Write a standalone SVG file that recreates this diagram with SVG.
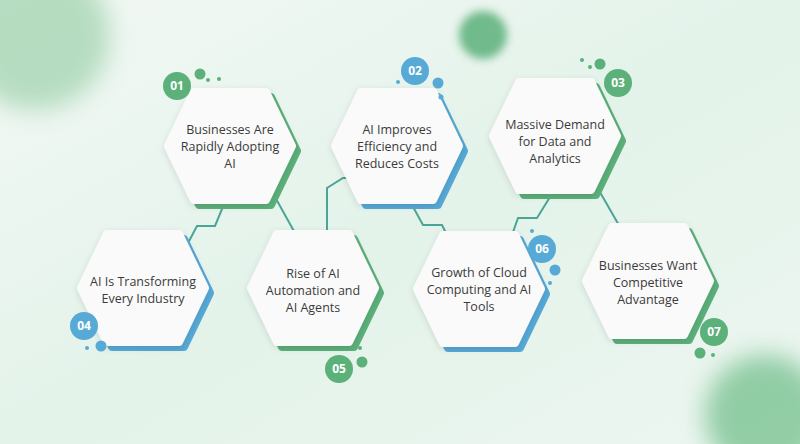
<svg xmlns="http://www.w3.org/2000/svg" width="800" height="444" viewBox="0 0 800 444">
<defs>
<linearGradient id="bg" x1="0" y1="0" x2="1" y2="1"><stop offset="0" stop-color="#f3f8f5"/><stop offset="0.5" stop-color="#e3f3ea"/><stop offset="1" stop-color="#ecf6f0"/></linearGradient>
<filter id="blur" x="-50%" y="-50%" width="200%" height="200%"><feGaussianBlur stdDeviation="12"/></filter>
<filter id="blur2" x="-50%" y="-50%" width="200%" height="200%"><feGaussianBlur stdDeviation="4"/></filter>
<filter id="sh" x="-20%" y="-20%" width="140%" height="140%"><feDropShadow dx="0" dy="2" stdDeviation="3" flood-color="#000" flood-opacity="0.12"/></filter>
<polygon id="hex" points="-62,0 -36,-54 36,-54 62,0 36,54 -36,54"/>
<style>
.hw{fill:#fafafa;stroke:#fafafa;stroke-width:8;stroke-linejoin:round}
.sg{fill:#5cb07a;stroke:#5cb07a;stroke-width:8;stroke-linejoin:round}
.sb{fill:#57a9d6;stroke:#57a9d6;stroke-width:8;stroke-linejoin:round}
.t{font-family:"Open Sans","Liberation Sans",sans-serif;font-size:12.5px;fill:#3a3a3a;text-anchor:middle}
.n{font-family:"Open Sans","Liberation Sans",sans-serif;font-size:12px;font-weight:bold;fill:#fff;text-anchor:middle}
.g{fill:#5cb07a}.b{fill:#57a9d6}
.c{fill:none;stroke:#4aa596;stroke-width:2}
</style>
</defs>
<rect width="800" height="444" fill="url(#bg)"/>
<circle cx="35" cy="35" r="75" fill="#8fcb9f" opacity="0.6" filter="url(#blur)"/>
<circle cx="483" cy="35" r="24" fill="#5cb07a" opacity="0.85" filter="url(#blur2)"/>
<circle cx="765" cy="415" r="60" fill="#6cbc86" opacity="0.7" filter="url(#blur)"/>
<g id="connectors" class="c">
<polyline points="227,197 215,226 197,226 187,245"/>
<polyline points="275,197 295,233"/>
<polyline points="327,233 327,188 343,178 352,178"/>
<polyline points="412,205 423,225 442,225 447,235"/>
<polyline points="512,235 518,218 537,218 550,197"/>
<polyline points="597,187 620,227"/>
</g>
<g id="node1" transform="translate(230,146)"><use href="#hex" class="sg" transform="translate(5,5)"/><use href="#hex" class="hw" filter="url(#sh)"/>
<text class="t" y="-12">Businesses Are</text><text class="t" y="5">Rapidly Adopting</text><text class="t" y="22">AI</text></g>
<g id="node2" transform="translate(397,146)"><use href="#hex" class="sb" transform="translate(5,5)"/><use href="#hex" class="hw" filter="url(#sh)"/>
<text class="t" y="-12">AI Improves</text><text class="t" y="5">Efficiency and</text><text class="t" y="22">Reduces Costs</text></g>
<g id="node3" transform="translate(555,136)"><use href="#hex" class="sg" transform="translate(5,5)"/><use href="#hex" class="hw" filter="url(#sh)"/>
<text class="t" y="-7">Massive Demand</text><text class="t" y="10">for Data and</text><text class="t" y="27">Analytics</text></g>
<g id="node4" transform="translate(143,288)"><use href="#hex" class="sb" transform="translate(5,5)"/><use href="#hex" class="hw" filter="url(#sh)"/>
<text class="t" y="-2">AI Is Transforming</text><text class="t" y="15">Every Industry</text></g>
<g id="node5" transform="translate(313,288)"><use href="#hex" class="sg" transform="translate(5,5)"/><use href="#hex" class="hw" filter="url(#sh)"/>
<text class="t" y="-10">Rise of AI</text><text class="t" y="7">Automation and</text><text class="t" y="24">AI Agents</text></g>
<g id="node6" transform="translate(479,289)"><use href="#hex" class="sb" transform="translate(5,5)"/><use href="#hex" class="hw" filter="url(#sh)"/>
<text class="t" y="-12">Growth of Cloud</text><text class="t" y="5">Computing and AI</text><text class="t" y="22">Tools</text></g>
<g id="node7" transform="translate(648,281)"><use href="#hex" class="sg" transform="translate(5,5)"/><use href="#hex" class="hw" filter="url(#sh)"/>
<text class="t" y="-11">Businesses Want</text><text class="t" y="6">Competitive</text><text class="t" y="23">Advantage</text></g>
<g id="badge1"><circle class="g" cx="177" cy="86" r="14"/><text class="n" x="177" y="90">01</text><circle class="g" cx="200" cy="74" r="5.5"/><circle class="g" cx="208" cy="80" r="2"/><circle class="g" cx="219" cy="79" r="2"/></g>
<g id="badge2"><circle class="b" cx="415" cy="71" r="14"/><text class="n" x="415" y="75">02</text><circle class="b" cx="438" cy="83" r="5.5"/><circle class="b" cx="441" cy="97" r="2.5"/><circle class="b" cx="398" cy="82" r="2"/></g>
<g id="badge3"><circle class="g" cx="618" cy="83" r="14"/><text class="n" x="618" y="87">03</text><circle class="g" cx="600" cy="64" r="5.5"/><circle class="g" cx="590" cy="67" r="2"/><circle class="g" cx="582" cy="60" r="2"/></g>
<g id="badge4"><circle class="b" cx="84" cy="326" r="14"/><text class="n" x="84" y="330">04</text><circle class="b" cx="101" cy="346" r="5.5"/><circle class="b" cx="87" cy="348" r="2"/></g>
<g id="badge5"><circle class="g" cx="339" cy="369" r="14"/><text class="n" x="339" y="373">05</text><circle class="g" cx="362" cy="362" r="5.5"/><circle class="g" cx="360" cy="348" r="2"/></g>
<g id="badge6"><circle class="b" cx="542" cy="249" r="14"/><text class="n" x="542" y="253">06</text><circle class="b" cx="555" cy="270" r="5.5"/><circle class="b" cx="550" cy="283" r="2"/><circle class="b" cx="532" cy="231" r="2"/></g>
<g id="badge7"><circle class="g" cx="714" cy="332" r="14"/><text class="n" x="714" y="336">07</text><circle class="g" cx="700" cy="353" r="5.5"/><circle class="g" cx="713" cy="355" r="2"/></g>
</svg>
